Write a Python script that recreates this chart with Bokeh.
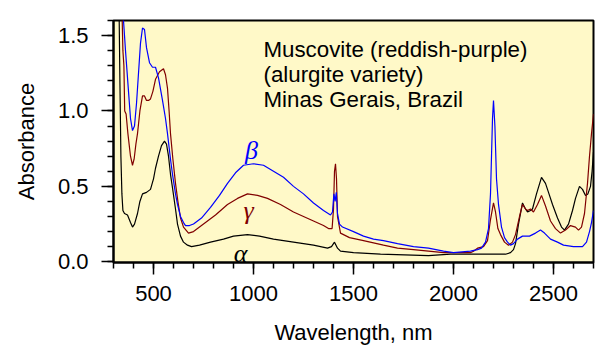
from bokeh.plotting import figure
from bokeh.models import FixedTicker, PrintfTickFormatter, Range1d, Label
from bokeh.embed import file_html
from bokeh.resources import INLINE

# Beta (blue)
beta_wl = [340, 350, 360, 375, 385, 395, 405, 415, 425, 435, 445, 455, 465, 480, 495, 510, 525, 545, 560, 570,
           585, 595, 610, 620, 635, 650, 660, 680, 700, 740, 785, 830, 870, 910, 950, 1000, 1050, 1100, 1150, 1200,
           1250, 1300, 1350, 1385, 1395, 1402, 1408, 1414, 1420, 1430, 1445, 1500, 1550, 1600, 1650, 1720, 1800,
           1875, 1950, 2000, 2085, 2120, 2140, 2160, 2175, 2185, 2195, 2200, 2207, 2215, 2225, 2240, 2255, 2270,
           2285, 2300, 2320, 2345, 2380, 2410, 2435, 2455, 2485, 2520, 2550, 2600, 2645, 2665, 2680, 2690, 2700]
beta_abs = [1.75, 1.60, 1.40, 1.13, 0.95, 0.87, 0.90, 1.05, 1.25, 1.45, 1.55, 1.54, 1.42, 1.32, 1.29, 1.29, 1.22,
            1.07, 0.95, 0.85, 0.68, 0.58, 0.45, 0.38, 0.30, 0.26, 0.24, 0.24, 0.25, 0.29, 0.36, 0.44, 0.52, 0.59,
            0.64, 0.65, 0.64, 0.60, 0.56, 0.50, 0.45, 0.39, 0.34, 0.31, 0.33, 0.45, 0.40, 0.46, 0.32, 0.25, 0.23,
            0.20, 0.17, 0.15, 0.14, 0.12, 0.10, 0.09, 0.07, 0.06, 0.07, 0.08, 0.09, 0.13, 0.22, 0.45, 0.95, 1.07,
            0.90, 0.55, 0.38, 0.23, 0.16, 0.13, 0.11, 0.12, 0.15, 0.17, 0.17, 0.19, 0.21, 0.19, 0.15, 0.13, 0.11,
            0.10, 0.10, 0.13, 0.20, 0.26, 0.34]

# Gamma (dark red)
gamma_wl = [340, 347, 352, 356, 363, 372, 385, 395, 403, 412, 420, 432, 445, 455, 465, 475, 485, 497, 510, 530,
            550, 560, 570, 578, 585, 597, 610, 622, 635, 650, 675, 700, 750, 810, 870, 920, 970, 1020, 1070, 1135,
            1200, 1250, 1300, 1350, 1375, 1393, 1400, 1405, 1410, 1415, 1420, 1435, 1480, 1550, 1650, 1720, 1800,
            1875, 1950, 2085, 2100, 2120, 2150, 2170, 2185, 2200, 2210, 2222, 2235, 2255, 2275, 2295, 2310, 2330,
            2345, 2360, 2370, 2385, 2400, 2420, 2440, 2460, 2485, 2510, 2535, 2560, 2585, 2610, 2625, 2640, 2655,
            2670, 2680, 2690, 2700]
gamma_abs = [1.80, 1.40, 1.30, 1.00, 0.98, 0.85, 0.70, 0.64, 0.68, 0.78, 0.85, 1.00, 1.10, 1.10, 1.07, 1.07, 1.08,
             1.13, 1.21, 1.26, 1.28, 1.24, 1.15, 1.00, 0.85, 0.68, 0.52, 0.40, 0.29, 0.23, 0.19, 0.20, 0.25, 0.31,
             0.38, 0.42, 0.45, 0.44, 0.42, 0.38, 0.33, 0.30, 0.27, 0.24, 0.22, 0.22, 0.35, 0.60, 0.65, 0.55, 0.30,
             0.19, 0.16, 0.14, 0.11, 0.09, 0.08, 0.07, 0.06, 0.06, 0.07, 0.09, 0.10, 0.14, 0.28, 0.39, 0.33, 0.22,
             0.18, 0.13, 0.11, 0.13, 0.18, 0.30, 0.38, 0.35, 0.34, 0.35, 0.33, 0.38, 0.44, 0.37, 0.27, 0.22, 0.19,
             0.21, 0.24, 0.23, 0.21, 0.23, 0.32, 0.52, 0.70, 0.85, 0.98]

# Alpha (black)
alpha_wl = [325, 332, 337, 342, 347, 355, 370, 385, 395, 405, 420, 432, 445, 465, 485, 500, 510, 525, 540, 555,
            565, 575, 585, 595, 610, 620, 635, 650, 670, 690, 730, 785, 850, 900, 970, 1030, 1100, 1150, 1250,
            1300, 1370, 1390, 1405, 1420, 1435, 1500, 1635, 1875, 1985, 2085, 2140, 2200, 2260, 2285, 2300, 2310,
            2325, 2345, 2360, 2370, 2385, 2395, 2415, 2440, 2460, 2475, 2495, 2520, 2540, 2555, 2575, 2595, 2610,
            2630, 2645, 2660, 2672, 2685, 2693, 2700]
alpha_abs = [2.00, 1.20, 0.70, 0.45, 0.34, 0.32, 0.31, 0.26, 0.23, 0.25, 0.32, 0.40, 0.45, 0.46, 0.48, 0.55, 0.62,
             0.70, 0.77, 0.80, 0.78, 0.70, 0.58, 0.49, 0.35, 0.25, 0.17, 0.13, 0.11, 0.10, 0.11, 0.13, 0.15, 0.17,
             0.18, 0.17, 0.15, 0.14, 0.12, 0.11, 0.09, 0.10, 0.13, 0.09, 0.07, 0.06, 0.05, 0.04, 0.05, 0.05, 0.05,
             0.05, 0.05, 0.06, 0.08, 0.12, 0.25, 0.39, 0.35, 0.33, 0.34, 0.35, 0.45, 0.56, 0.52, 0.46, 0.38, 0.29,
             0.23, 0.21, 0.25, 0.34, 0.42, 0.50, 0.48, 0.44, 0.45, 0.50, 0.60, 0.73]

x_major = [500, 1000, 1500, 2000, 2500]
x_minor = list(range(300, 2701, 100))
y_major = [0.0, 0.5, 1.0, 1.5]
y_minor = [i / 10 for i in range(0, 17)]

title_lines = ["Muscovite (reddish-purple)", "(alurgite variety)", "Minas Gerais, Brazil"]

FONT = "Liberation Sans"

p = figure(width=616, height=356, output_backend="svg", toolbar_location=None,
           x_range=Range1d(300, 2700), y_range=Range1d(-0.005, 1.6),
           min_border_left=113, min_border_right=23, min_border_top=20, min_border_bottom=94)
p.border_fill_color = "white"
p.background_fill_color = "#FFF9C8"
p.outline_line_color = "black"
p.outline_line_width = 2
p.grid.visible = False

p.line(alpha_wl, alpha_abs, color="black", line_width=1.2)
p.line(gamma_wl, gamma_abs, color="#800000", line_width=1.2)
p.line(beta_wl, beta_abs, color="#0000FF", line_width=1.2)

for ax in (p.xaxis[0], p.yaxis[0]):
    ax.axis_line_width = 2
    ax.axis_line_color = "black"
    ax.major_tick_in = 0
    ax.major_tick_out = 12
    ax.minor_tick_in = 0
    ax.minor_tick_out = 6
    ax.major_tick_line_width = 1.5
    ax.minor_tick_line_width = 1.5
    ax.major_label_text_font = FONT
    ax.major_label_text_font_size = "22px"
    ax.major_label_text_color = "black"
    ax.axis_label_text_font = FONT
    ax.axis_label_text_font_size = "22px"
    ax.axis_label_text_font_style = "normal"
    ax.axis_label_text_color = "black"

p.xaxis.ticker = FixedTicker(ticks=x_major, minor_ticks=x_minor)
p.yaxis.ticker = FixedTicker(ticks=y_major, minor_ticks=y_minor)
p.yaxis.formatter = PrintfTickFormatter(format="%.1f")
p.xaxis.axis_label = "Wavelength, nm"
p.yaxis.axis_label = "Absorbance"
p.xaxis.major_label_standoff = 11
p.yaxis.major_label_standoff = 13
p.xaxis.axis_label_standoff = 16
p.yaxis.axis_label_standoff = 16

for i, line in enumerate(title_lines):
    p.add_layout(Label(x=1050, y=1.41 - i * 0.1656, text=line, text_font=FONT,
                       text_font_size="22.3px", text_color="black", text_baseline="alphabetic"))

greek = [("β", 990, 0.735, "#0000FF"), ("γ", 975, 0.338, "#800000"), ("α", 935, 0.053, "black")]
for t, gx, gy, c in greek:
    p.add_layout(Label(x=gx, y=gy, text=t, text_font="Liberation Serif", text_font_style="italic",
                       text_font_size="26px", text_color=c, text_align="center", text_baseline="alphabetic"))

open("out.html", "w").write(file_html(p, INLINE))
